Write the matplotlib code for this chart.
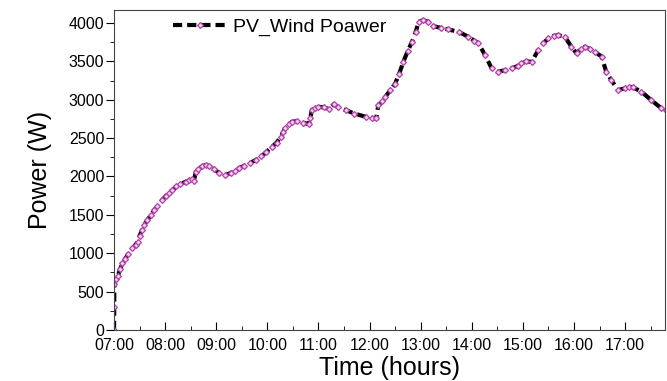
import matplotlib.pyplot as plt
from matplotlib.ticker import MultipleLocator

plt.rcParams['font.family'] = ['Liberation Sans', 'DejaVu Sans']

# time in decimal hours, power in W
hours = [7.00, 7.003, 7.006, 7.03, 7.07, 7.12, 7.16, 7.22, 7.28, 7.36, 7.42, 7.46,
         7.50, 7.55, 7.59, 7.65, 7.72, 7.78, 7.85, 7.94, 8.02, 8.08, 8.14, 8.22,
         8.30, 8.40, 8.47, 8.53, 8.56, 8.60, 8.65, 8.72, 8.79, 8.85, 8.95, 9.05,
         9.18, 9.28, 9.36, 9.44, 9.55, 9.66, 9.77, 9.88, 9.98, 10.09, 10.18, 10.26,
         10.31, 10.35, 10.42, 10.48, 10.58, 10.70, 10.81, 10.84, 10.87, 10.94, 11.00,
         11.10, 11.20, 11.30, 11.38, 11.53, 11.70, 11.92, 12.05, 12.13, 12.17, 12.25,
         12.31, 12.40, 12.50, 12.58, 12.66, 12.75, 12.83, 12.90, 12.96, 13.05, 13.15,
         13.25, 13.40, 13.54, 13.74, 13.93, 14.05, 14.13, 14.26, 14.39, 14.52, 14.65,
         14.78, 14.90, 14.97, 15.07, 15.17, 15.30, 15.40, 15.50, 15.60, 15.69, 15.82,
         15.95, 16.05, 16.13, 16.21, 16.31, 16.41, 16.54, 16.63, 16.73, 16.86, 16.99,
         17.08, 17.16, 17.32, 17.51, 17.71, 17.80]
power = [0, 300, 600, 660, 700, 790, 868, 930, 990, 1063, 1110, 1150,
         1230, 1300, 1367, 1430, 1497, 1560, 1610, 1693, 1750, 1790, 1823, 1870,
         1900, 1931, 1950, 1961, 1935, 2062, 2100, 2130, 2148, 2135, 2095, 2050,
         2018, 2045, 2075, 2105, 2140, 2175, 2213, 2260, 2320, 2387, 2440, 2517,
         2580, 2626, 2680, 2712, 2720, 2700, 2682, 2760, 2865, 2895, 2908,
         2900, 2880, 2940, 2900, 2865, 2820, 2778, 2760, 2756, 2930, 2980,
         3038, 3120, 3210, 3340, 3493, 3640, 3754, 3880, 4014, 4036, 4014,
         3958, 3935, 3915, 3885, 3820, 3770, 3733, 3581, 3407, 3364, 3385,
         3407, 3440, 3472, 3500, 3493, 3646, 3740, 3798, 3830, 3841, 3820,
         3690, 3603, 3660, 3690, 3660, 3625, 3560, 3364, 3255, 3125, 3147,
         3170, 3160, 3103, 2995, 2887, 2860]

xticks = [7, 8, 9, 10, 11, 12, 13, 14, 15, 16, 17]
xlabels = ['07:00', '08:00', '09:00', '10:00', '11:00', '12:00',
           '13:00', '14:00', '15:00', '16:00', '17:00']

fig = plt.figure(figsize=(6.67, 3.81), dpi=100)
ax = fig.add_axes([0.171, 0.134, 0.826, 0.840])

ax.plot(hours, power, color='black', lw=3, ls=(0, (2.2, 1.2)),
        marker='D', markersize=3, markerfacecolor='#f3d2ee',
        markeredgecolor='#b23fa8', markeredgewidth=0.9,
        label='PV_Wind Poawer')

ax.set_xlim(7, 17.78)
ax.set_ylim(0, 4170)
ax.set_xticks(xticks)
ax.set_xticklabels(xlabels)
ax.xaxis.set_minor_locator(MultipleLocator(0.5))
ax.yaxis.set_major_locator(MultipleLocator(500))
ax.yaxis.set_minor_locator(MultipleLocator(250))

ax.tick_params(axis='x', which='major', direction='in', length=6, labelsize=11.5, pad=6)
ax.tick_params(axis='x', which='minor', direction='in', length=3)
ax.tick_params(axis='y', which='major', direction='out', length=6, labelsize=11.5, pad=1)
ax.tick_params(axis='y', which='minor', direction='out', length=3)
for s in ax.spines.values():
    s.set_color('#444444')

ax.set_xlabel('Time (hours)', fontsize=18, labelpad=2)
ax.set_ylabel('Power (W)', fontsize=18, labelpad=12)

ax.legend(loc='upper left', bbox_to_anchor=(0.075, 1.03), frameon=False,
          fontsize=14, handlelength=2.8, handletextpad=0.3)

fig.savefig('out.png', dpi=100)
